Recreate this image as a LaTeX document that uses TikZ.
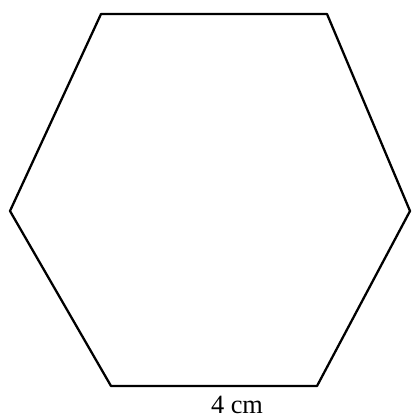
\documentclass[tikz,border=0pt]{standalone}
\usepackage{fontspec}
\setmainfont{Liberation Serif}
\usetikzlibrary{positioning}

\begin{document}
\begin{tikzpicture}[x=0.02cm,y=-0.02cm,line width=1.3pt]
			\useasboundingbox (0,0) rectangle (412,418);
			\coordinate (tl) at (101,14);
			\coordinate (tr) at (327,14);
			\coordinate (r) at (410,211);
			\coordinate (br) at (317,386);
			\coordinate (bl) at (111,386);
			\coordinate (l) at (10,211);
			\draw[line join=round] (tl) -- (tr) -- (r) -- (br) -- (bl) -- (l) -- cycle;
			\node[font=\fontsize{15}{17}\selectfont] (len) at (237,405) {4 cm};
\end{tikzpicture}
\end{document}
